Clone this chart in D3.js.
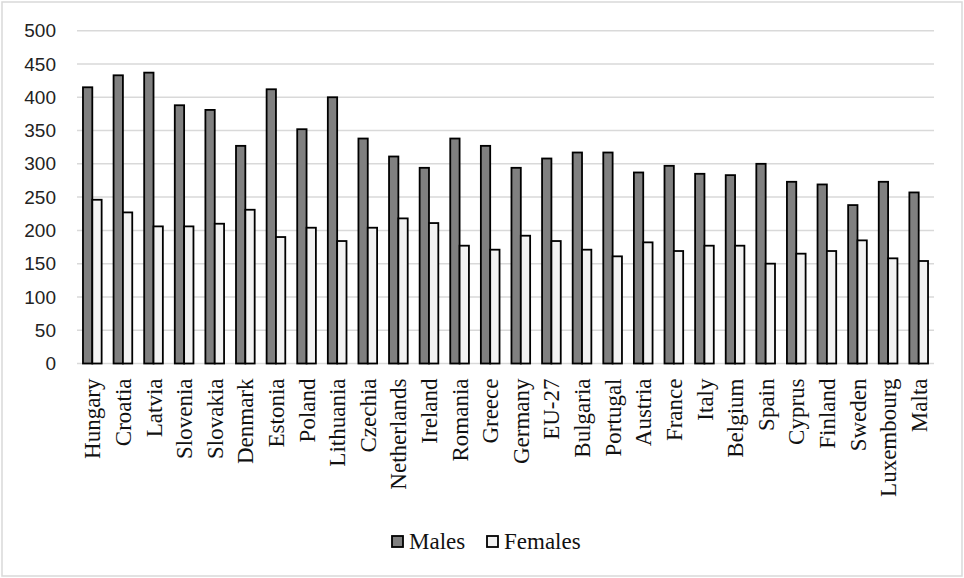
<!DOCTYPE html>
<html>
<head>
<meta charset="utf-8">
<script src="https://cdn.jsdelivr.net/npm/d3@7"></script>
<style>
  html, body { margin: 0; padding: 0; background: #fff; }
  svg { display: block; }
  .serif { font-family: "Liberation Serif", "Times New Roman", serif; fill: #111; }
  .sans { font-family: "Liberation Sans", Arial, sans-serif; fill: #222; }
</style>
</head>
<body>
<svg id="chart" width="964" height="578"></svg>
<script>
// Country categories, in plotted order
const countries = ["Hungary", "Croatia", "Latvia", "Slovenia", "Slovakia", "Denmark", "Estonia",
  "Poland", "Lithuania", "Czechia", "Netherlands", "Ireland", "Romania", "Greece", "Germany",
  "EU-27", "Bulgaria", "Portugal", "Austria", "France", "Italy", "Belgium", "Spain", "Cyprus",
  "Finland", "Sweden", "Luxembourg", "Malta"];

// Series values
const males = [415, 433, 437, 388, 381, 327, 412, 352, 400, 338, 311, 294, 338, 327, 294,
  308, 317, 317, 287, 297, 285, 283, 300, 273, 269, 238, 273, 257];
const females = [246, 227, 206, 206, 210, 231, 190, 204, 184, 204, 218, 211, 177, 171, 192,
  184, 171, 161, 182, 169, 177, 177, 150, 165, 169, 185, 158, 154];

const seriesNames = ["Males", "Females"];
const yTicks = [0, 50, 100, 150, 200, 250, 300, 350, 400, 450, 500];

const fills = { Males: "#808080", Females: "#f2f2f2" };

const svg = d3.select("#chart");

// Outer frame
svg.append("rect")
  .attr("x", 2).attr("y", 2).attr("width", 960).attr("height", 574)
  .attr("fill", "#fff").attr("stroke", "#d9d9d9").attr("stroke-width", 1.5);

const plot = { left: 77, right: 934, top: 30.7, bottom: 363.5 };

const x0 = d3.scaleBand().domain(countries).range([plot.left, plot.right]).padding(0);
const groupW = x0.bandwidth() * 0.61;
const x1 = d3.scaleBand().domain(seriesNames)
  .range([(x0.bandwidth() - groupW) / 2, (x0.bandwidth() + groupW) / 2]).padding(0);
const y = d3.scaleLinear().domain([0, 500]).range([plot.bottom, plot.top]);

// Horizontal gridlines
svg.append("g")
  .selectAll("line")
  .data(yTicks)
  .join("line")
  .attr("x1", plot.left).attr("x2", plot.right)
  .attr("y1", d => y(d)).attr("y2", d => y(d))
  .attr("stroke", "#d9d9d9").attr("stroke-width", 1.5);

// Y axis labels
const yAxis = d3.axisLeft(y).tickValues(yTicks).tickSize(0).tickPadding(0);
const gy = svg.append("g").attr("transform", "translate(56,0)").call(yAxis);
gy.select(".domain").remove();
gy.selectAll("text")
  .attr("class", "sans")
  .style("font-size", "19px");

// Bars
const rows = countries.map((c, i) => ({ country: c, values: [
  { key: "Males", value: males[i] },
  { key: "Females", value: females[i] }
]}));

svg.append("g")
  .selectAll("g")
  .data(rows)
  .join("g")
  .attr("transform", d => `translate(${x0(d.country)},0)`)
  .selectAll("rect")
  .data(d => d.values)
  .join("rect")
  .attr("x", d => x1(d.key))
  .attr("width", x1.bandwidth())
  .attr("y", d => y(d.value))
  .attr("height", d => y(0) - y(d.value))
  .attr("fill", d => fills[d.key])
  .attr("stroke", "#000")
  .attr("stroke-width", 1.8);

// X axis category labels, rotated
const xAxis = d3.axisBottom(x0).tickSize(0).tickPadding(0);
const gx = svg.append("g").attr("transform", `translate(0,${plot.bottom})`).call(xAxis);
gx.select(".domain").remove();
gx.selectAll("text")
  .attr("class", "serif")
  .style("font-size", "23px")
  .attr("text-anchor", "end")
  .attr("transform", "rotate(-90)")
  .attr("x", -15)
  .attr("y", 0)
  .attr("dy", "0.35em");

// Legend
const legend = svg.append("g");
const legendItems = [
  { key: "Males", x: 392 },
  { key: "Females", x: 487 }
];
legendItems.forEach(it => {
  legend.append("rect")
    .attr("x", it.x).attr("y", 536).attr("width", 11).attr("height", 11)
    .attr("fill", fills[it.key]).attr("stroke", "#000").attr("stroke-width", 1.8);
  legend.append("text")
    .attr("class", "serif")
    .attr("x", it.x + 17).attr("y", 549)
    .style("font-size", "23px")
    .text(it.key);
});
</script>
</body>
</html>
